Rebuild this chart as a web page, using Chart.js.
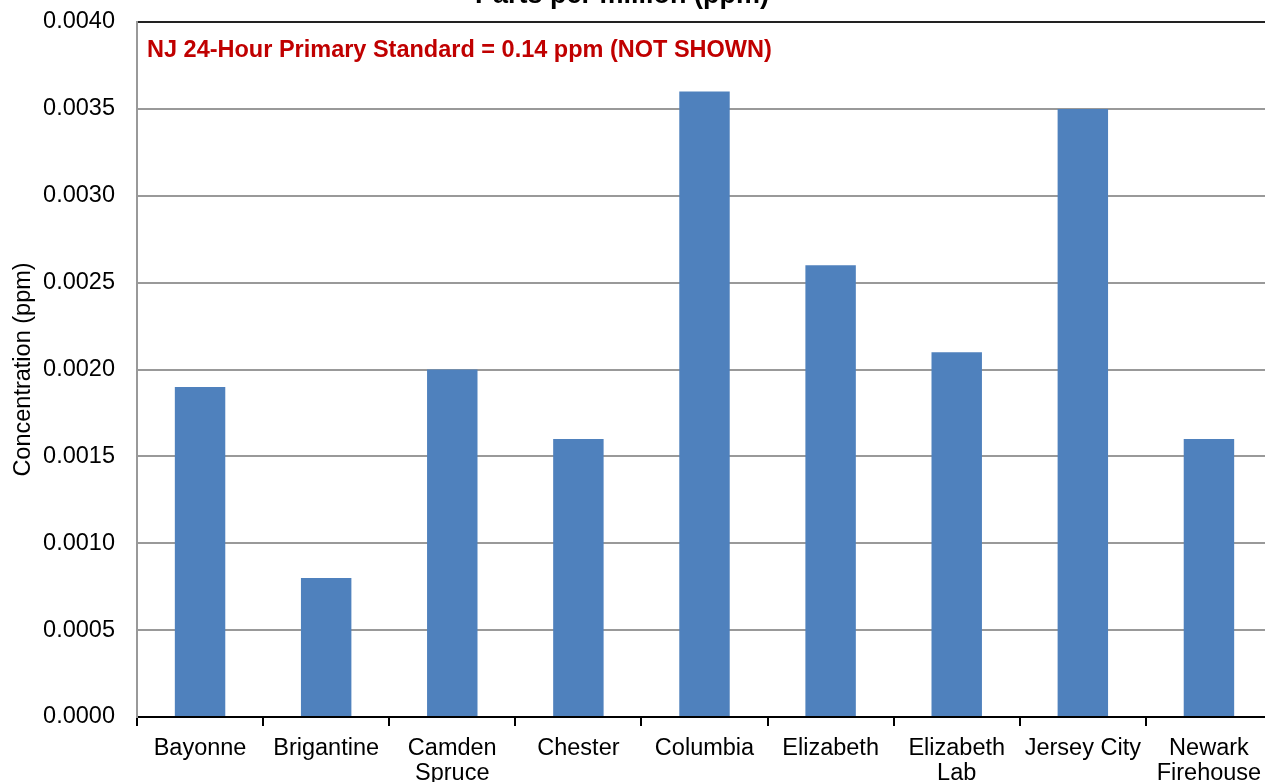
<!DOCTYPE html>
<html>
<head>
<meta charset="utf-8">
<script src="https://cdn.jsdelivr.net/npm/chart.js@4/dist/chart.umd.min.js"></script>
<style>
  html, body { margin: 0; padding: 0; background: #fff; overflow: hidden; }
  #wrap { position: absolute; left: 0; top: 0; width: 1280px; height: 782px; }
</style>
</head>
<body>
<div id="wrap"><canvas id="c"></canvas></div>
<script>
// Monitoring sites and their concentrations (ppm)
const sites = [
  'Bayonne', 'Brigantine', ['Camden', 'Spruce'], 'Chester', 'Columbia',
  'Elizabeth', ['Elizabeth', 'Lab'], 'Jersey City', ['Newark', 'Firehouse']
];
const concentrations = [0.0019, 0.0008, 0.0020, 0.0016, 0.0036, 0.0026, 0.0021, 0.0035, 0.0016];
const yTicks = { min: 0, max: 0.004, step: 0.0005 };
const chartTitle = 'Parts per million (ppm)';
const yAxisTitle = 'Concentration (ppm)';
const standardNote = 'NJ 24-Hour Primary Standard = 0.14 ppm (NOT SHOWN)';

const FONT = "'Liberation Sans', Arial, sans-serif";
const SIZE = 23.5;

// Title above the plot and the note in the top-left corner of the plot area
const textOverlay = {
  id: 'textOverlay',
  afterDraw(chart) {
    const ctx = chart.ctx;
    const area = chart.chartArea;
    ctx.save();
    ctx.fillStyle = '#000';
    ctx.font = `bold 27px ${FONT}`;
    ctx.textAlign = 'center';
    ctx.textBaseline = 'alphabetic';
    ctx.fillText(chartTitle, 622, 3);
    ctx.fillStyle = '#C00000';
    ctx.font = `bold ${SIZE}px ${FONT}`;
    ctx.textAlign = 'left';
    ctx.textBaseline = 'middle';
    ctx.fillText(standardNote, area.left + 10, area.top + 29);
    ctx.restore();
  }
};

new Chart(document.getElementById('c'), {
  type: 'bar',
  data: {
    labels: sites,
    datasets: [{
      data: concentrations,
      backgroundColor: '#4F81BD',
      borderWidth: 0,
      barPercentage: 0.4,
      categoryPercentage: 1.0
    }]
  },
  options: {
    responsive: true,
    maintainAspectRatio: false,
    animation: false,
    layout: { padding: { top: 22, right: 8, left: 0, bottom: 0 } },
    plugins: {
      legend: { display: false },
      title: { display: false },
      tooltip: { enabled: false }
    },
    scales: {
      x: {
        offset: true,
        grid: {
          offset: true,
          drawOnChartArea: false,
          drawTicks: true,
          tickLength: 9,
          color: '#000',
          lineWidth: 2
        },
        border: { display: true, color: '#000', width: 2 },
        ticks: {
          color: '#000',
          font: { family: FONT, size: SIZE, lineHeight: 1.07 },
          padding: 10,
          maxRotation: 0,
          autoSkip: false
        },
        afterFit(scale) {
          scale.height = 65;
          scale.paddingLeft = 0;
          scale.paddingRight = 0;
        }
      },
      y: {
        min: yTicks.min,
        max: yTicks.max,
        grid: {
          drawTicks: false,
          lineWidth: 2,
          color(ctx) {
            return ctx.tick && ctx.tick.value === yTicks.max ? '#222' : '#999';
          }
        },
        border: { display: true, color: '#999', width: 2 },
        ticks: {
          stepSize: yTicks.step,
          color: '#000',
          padding: 22,
          font: { family: FONT, size: SIZE },
          callback: v => v.toFixed(4)
        },
        title: {
          display: true,
          text: yAxisTitle,
          color: '#000',
          font: { family: FONT, size: SIZE },
          padding: { top: 9, bottom: 0 }
        },
        afterFit(scale) {
          scale.width = 137;
          scale.paddingTop = 0;
          scale.paddingBottom = 0;
        }
      }
    }
  },
  plugins: [textOverlay]
});
</script>
</body>
</html>
